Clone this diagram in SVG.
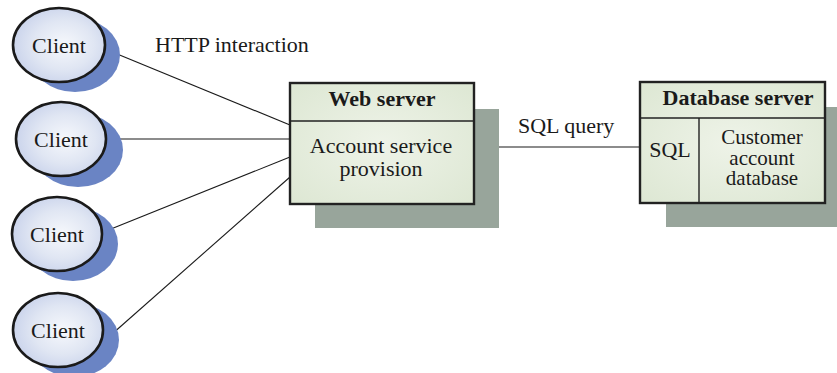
<svg xmlns="http://www.w3.org/2000/svg" width="837" height="373" viewBox="0 0 837 373">
<defs>
<style>
.txt{font-family:"Liberation Serif","Times New Roman",serif;font-size:22px;fill:#1a1a1a}
.small{font-size:21px}
.bold{font-weight:bold}
.mid{text-anchor:middle}
.conn{stroke:#1a1a1a;stroke-width:1.1;fill:none}
.cshadow{fill:#6a84c4}
.client{fill:url(#cg);stroke:#1a1a1a;stroke-width:2.6}
.box{fill:url(#bg);stroke:#222;stroke-width:2.4}
.boxshadow{fill:#98a59b}
.div{stroke:#222;stroke-width:1.4}
</style>
<radialGradient id="cg" cx="0.55" cy="0.5" r="0.6">
<stop offset="0" stop-color="#f6f8fc"/>
<stop offset="0.55" stop-color="#e0e6f3"/>
<stop offset="1" stop-color="#c6d0ea"/>
</radialGradient>
<radialGradient id="bg" cx="0.5" cy="0.5" r="0.7">
<stop offset="0" stop-color="#eef3e8"/>
<stop offset="1" stop-color="#dde7d3"/>
</radialGradient>
</defs>

<g id="connectors">
<line class="conn" x1="105" y1="49" x2="290" y2="125"/>
<line class="conn" x1="106" y1="139" x2="290" y2="139"/>
<line class="conn" x1="101" y1="233" x2="290" y2="157"/>
<line class="conn" x1="103" y1="342" x2="290" y2="177"/>
<line class="conn" x1="474" y1="147" x2="640" y2="147"/>
</g>

<g id="label-http"><text class="txt" x="155" y="52">HTTP interaction</text></g>
<g id="label-sql"><text class="txt" x="518" y="133">SQL query</text></g>

<g id="client1">
<ellipse class="cshadow" cx="75" cy="55" rx="45" ry="37"/>
<ellipse class="client" cx="59" cy="45" rx="46" ry="37"/>
<text class="txt mid" x="59" y="53">Client</text>
</g>
<g id="client2">
<ellipse class="cshadow" cx="78" cy="150" rx="45" ry="37"/>
<ellipse class="client" cx="61" cy="139" rx="45" ry="37"/>
<text class="txt mid" x="61" y="147">Client</text>
</g>
<g id="client3">
<ellipse class="cshadow" cx="73" cy="244" rx="45" ry="37"/>
<ellipse class="client" cx="57" cy="234" rx="45" ry="37"/>
<text class="txt mid" x="57" y="242">Client</text>
</g>
<g id="client4">
<ellipse class="cshadow" cx="74" cy="340" rx="45" ry="37"/>
<ellipse class="client" cx="58" cy="330" rx="45" ry="37"/>
<text class="txt mid" x="58" y="338">Client</text>
</g>

<g id="webserver">
<rect class="boxshadow" x="315" y="109" width="184" height="119"/>
<rect class="box" x="290" y="83" width="184" height="121"/>
<line class="div" x1="290" y1="121" x2="474" y2="121"/>
<text class="txt bold mid" x="382" y="106">Web server</text>
<text class="txt mid" x="381" y="153">Account service</text>
<text class="txt mid" x="381" y="176">provision</text>
</g>

<g id="dbserver">
<rect class="boxshadow" x="666" y="107" width="171" height="120"/>
<rect class="box" x="640" y="82" width="185" height="121"/>
<line class="div" x1="640" y1="118" x2="825" y2="118"/>
<line class="div" x1="699" y1="118" x2="699" y2="203"/>
<text class="txt bold mid" x="738" y="105">Database server</text>
<text class="txt mid" x="670" y="157">SQL</text>
<text class="txt small mid" x="762" y="144">Customer</text>
<text class="txt small mid" x="762" y="164.5">account</text>
<text class="txt small mid" x="762" y="185">database</text>
</g>
</svg>
